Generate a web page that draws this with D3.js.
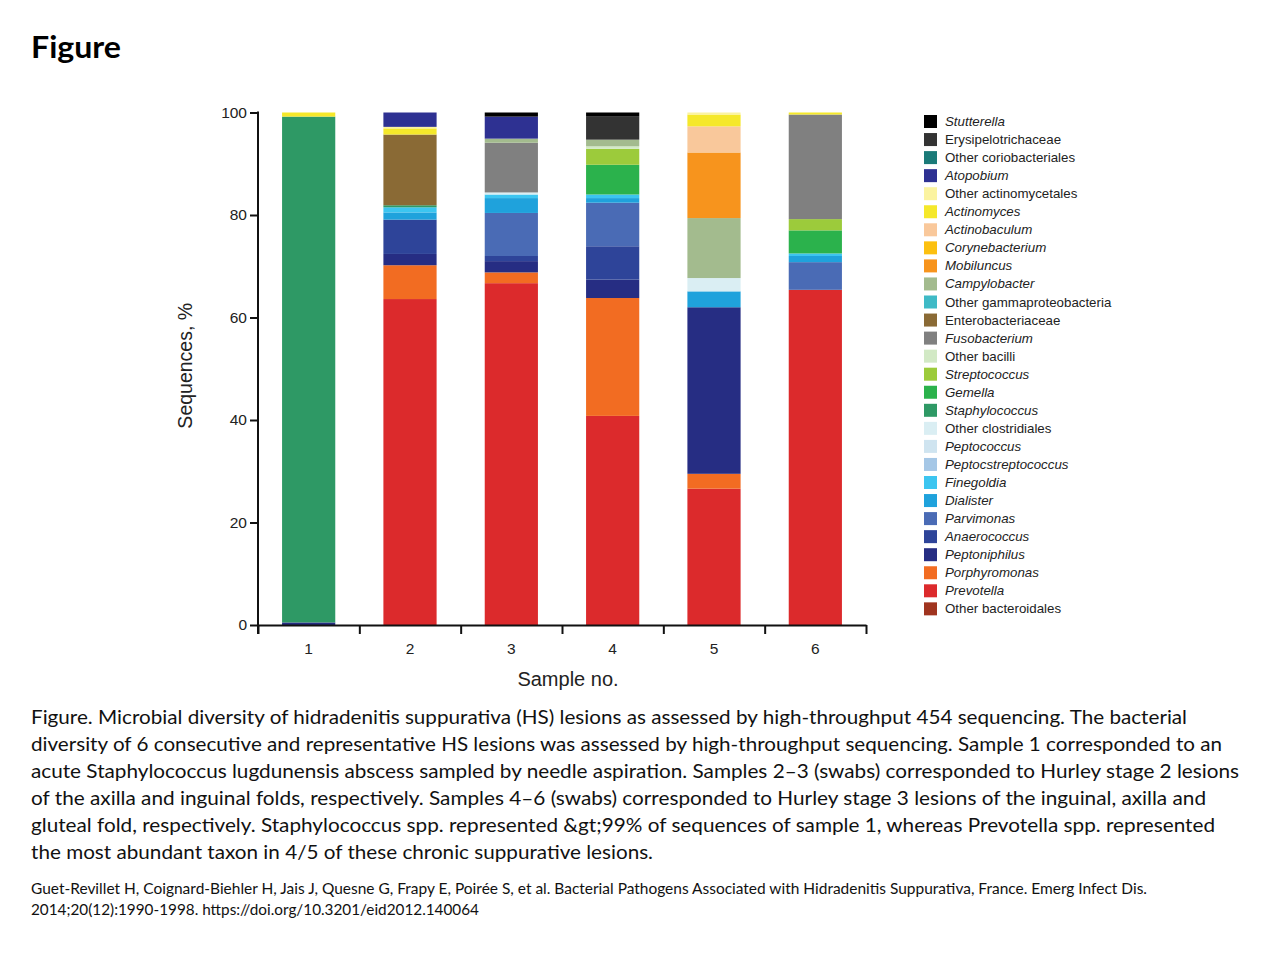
<!DOCTYPE html>
<html>
<head>
<meta charset="utf-8">
<script src="https://cdn.jsdelivr.net/npm/d3@7"></script>
<style>
  html, body { margin: 0; padding: 0; background: #fff; }
  svg { display: block; }
</style>
</head>
<body>
<svg id="chart" width="1280" height="960"></svg>
<script>
// ---------- data ----------
const samples = ["1", "2", "3", "4", "5", "6"];

// taxa in stacking order, bottom to top
const taxa = [
  "Other bacteroidales", "Prevotella", "Porphyromonas", "Peptoniphilus", "Anaerococcus",
  "Parvimonas", "Dialister", "Finegoldia", "Peptocstreptococcus", "Peptococcus",
  "Other clostridiales", "Staphylococcus", "Gemella", "Streptococcus", "Other bacilli",
  "Fusobacterium", "Enterobacteriaceae", "Other gammaproteobacteria", "Campylobacter", "Mobiluncus",
  "Corynebacterium", "Actinobaculum", "Actinomyces", "Other actinomycetales", "Atopobium",
  "Other coriobacteriales", "Erysipelotrichaceae", "Stutterella"
];

const taxaItalic = [
  false, true, true, true, true,
  true, true, true, true, true,
  false, true, true, true, false,
  true, false, false, true, true,
  true, true, true, false, true,
  false, false, true
];

const taxaColors = [
  "#a0341f", "#dc2a2c", "#f26c22", "#262d83", "#2e4499",
  "#4a6bb5", "#1fa2dc", "#3cc5f0", "#a5c7e6", "#cfe4f0",
  "#daeef3", "#2e9965", "#2bb24c", "#9ccb3b", "#d2e9c5",
  "#808080", "#8a6a35", "#3fbac6", "#a3bb8e", "#f7941d",
  "#fcc010", "#f9c89b", "#f5e82a", "#fbf3a0", "#2e3192",
  "#1a7a78", "#333333", "#000000"
];

// percentage of sequences per taxon (same order as taxa)
const sample1 = [0, 0, 0, 0.5, 0, 0, 0, 0, 0, 0, 0, 98.7, 0, 0, 0, 0, 0, 0, 0, 0, 0, 0, 0.8, 0, 0, 0, 0, 0];
const sample2 = [0, 63.6, 6.6, 2.2, 6.7, 0, 1.4, 1.0, 0, 0, 0, 0.4, 0, 0, 0, 0, 13.8, 0, 0, 0, 0, 0, 1.2, 0.3, 2.8, 0, 0, 0];
const sample3 = [0, 66.7, 2.1, 2.2, 1.0, 8.4, 2.9, 0.7, 0, 0, 0.4, 0, 0, 0, 0, 9.7, 0, 0, 0.8, 0, 0, 0, 0, 0, 4.3, 0, 0, 0.8];
const sample4 = [0, 40.8, 23.0, 3.6, 6.5, 8.5, 0.9, 0.7, 0, 0, 0, 0, 5.8, 3.1, 0.5, 0, 0, 0, 1.3, 0, 0, 0, 0, 0, 0, 0, 4.6, 0.7];
const sample5 = [0, 26.6, 2.9, 32.5, 0, 0, 3.1, 0, 0, 0, 2.6, 0, 0, 0, 0, 0, 0, 0, 11.7, 12.8, 0, 5.1, 2.3, 0.4, 0, 0, 0, 0];
const sample6 = [0, 65.4, 0, 0, 0, 5.4, 1.2, 0.5, 0, 0, 0, 0, 4.5, 2.2, 0, 20.4, 0, 0, 0, 0, 0, 0, 0.4, 0, 0, 0, 0, 0];
const sampleValues = [sample1, sample2, sample3, sample4, sample5, sample6];

const yTicks = [0, 20, 40, 60, 80, 100];

const titleText = "Figure";
const captionLines = [
  "Figure. Microbial diversity of hidradenitis suppurativa (HS) lesions as assessed by high-throughput 454 sequencing. The bacterial",
  "diversity of 6 consecutive and representative HS lesions was assessed by high-throughput sequencing. Sample 1 corresponded to an",
  "acute Staphylococcus lugdunensis abscess sampled by needle aspiration. Samples 2\u20133 (swabs) corresponded to Hurley stage 2 lesions",
  "of the axilla and inguinal folds, respectively. Samples 4\u20136 (swabs) corresponded to Hurley stage 3 lesions of the inguinal, axilla and",
  "gluteal fold, respectively. Staphylococcus spp. represented &gt;99% of sequences of sample 1, whereas Prevotella spp. represented",
  "the most abundant taxon in 4/5 of these chronic suppurative lesions."
];
const citationLines = [
  "Guet-Revillet H, Coignard-Biehler H, Jais J, Quesne G, Frapy E, Poir\u00e9e S, et al. Bacterial Pathogens Associated with Hidradenitis Suppurativa, France. Emerg Infect Dis.",
  "2014;20(12):1990-1998. https://doi.org/10.3201/eid2012.140064"
];

// ---------- layout ----------
const svg = d3.select("#chart");
const plot = { left: 258, right: 866, top: 112.5, bottom: 625 };
const sans = "Liberation Sans, Arial, sans-serif";

const table = samples.map((s, i) => {
  const row = { sample: s };
  taxa.forEach((t, j) => { row[t] = sampleValues[i][j]; });
  return row;
});

const x = d3.scaleBand().domain(samples).range([plot.left, plot.right]).padding(0);
const xEdge = d3.scaleLinear().domain([0, samples.length]).range([plot.left, plot.right]);
const y = d3.scaleLinear().domain([0, 100]).range([plot.bottom, plot.top]);
const color = d3.scaleOrdinal().domain(taxa).range(taxaColors);
const barWidth = x.bandwidth() * 0.525;

const stacked = d3.stack().keys(taxa)(table);

// bars
const g = svg.append("g");
g.selectAll("g.layer")
  .data(stacked)
  .join("g")
  .attr("class", "layer")
  .attr("fill", d => color(d.key))
  .selectAll("rect")
  .data(d => d.filter(p => p[1] - p[0] > 0))
  .join("rect")
  .attr("x", d => x(d.data.sample) + (x.bandwidth() - barWidth) / 2)
  .attr("width", barWidth)
  .attr("y", d => y(d[1]))
  .attr("height", d => y(d[0]) - y(d[1]));

// y axis
const yAxis = svg.append("g")
  .attr("transform", `translate(${plot.left},0)`)
  .call(d3.axisLeft(y).tickValues(yTicks).tickSize(8).tickSizeOuter(0).tickPadding(3));
yAxis.select(".domain").remove();
yAxis.selectAll(".tick line").attr("stroke", "#111").attr("stroke-width", 2);
yAxis.selectAll(".tick text")
  .attr("font-family", sans)
  .attr("font-size", 15.5).attr("fill", "#222");
svg.append("line")
  .attr("x1", plot.left).attr("x2", plot.left)
  .attr("y1", y(100) - 1).attr("y2", plot.bottom + 9)
  .attr("stroke", "#111").attr("stroke-width", 2);

// x axis ticks (between bars)
const xAxis = svg.append("g")
  .attr("transform", `translate(0,${plot.bottom})`)
  .call(d3.axisBottom(xEdge).tickValues(d3.range(samples.length + 1)).tickFormat("").tickSize(9).tickSizeOuter(0));
xAxis.select(".domain").attr("stroke", "#111").attr("stroke-width", 2);
xAxis.selectAll(".tick line").attr("stroke", "#111").attr("stroke-width", 2);

// x category labels
const xLab = svg.append("g")
  .attr("transform", `translate(0,${plot.bottom})`)
  .call(d3.axisBottom(x).tickSize(0).tickPadding(18));
xLab.select(".domain").remove();
xLab.selectAll(".tick text")
  .attr("font-family", sans)
  .attr("font-size", 15.5).attr("fill", "#222");

// axis titles
svg.append("text")
  .attr("x", (plot.left + plot.right) / 2 + 6).attr("y", 686)
  .attr("text-anchor", "middle")
  .attr("font-family", sans)
  .attr("font-size", 20).attr("fill", "#222")
  .text("Sample no.");
svg.append("text")
  .attr("transform", `translate(192,${(plot.top + plot.bottom) / 2 - 3}) rotate(-90)`)
  .attr("text-anchor", "middle")
  .attr("font-family", sans)
  .attr("font-size", 19.5).attr("fill", "#222")
  .text("Sequences, %");

// legend (top-to-bottom = reverse stacking order)
const legendItems = taxa.map((t, i) => ({ name: t, italic: taxaItalic[i] })).reverse();
const legend = svg.append("g").attr("transform", "translate(924,115)");
const leg = legend.selectAll("g")
  .data(legendItems)
  .join("g")
  .attr("transform", (d, i) => `translate(0,${i * 18.05})`);
leg.append("rect")
  .attr("width", 13).attr("height", 13)
  .attr("fill", d => color(d.name));
leg.append("text")
  .attr("x", 21).attr("y", 11)
  .attr("font-family", sans)
  .attr("font-size", 13.3)
  .attr("font-style", d => d.italic ? "italic" : "normal")
  .attr("fill", "#222")
  .text(d => d.name);

// title and caption
function fit(sel, w) {
  sel.attr("textLength", w).attr("lengthAdjust", "spacingAndGlyphs");
}
svg.append("text")
  .attr("x", 31).attr("y", 58)
  .attr("font-family", "Lato, 'Open Sans', sans-serif")
  .attr("font-weight", "bold").attr("font-size", 31).attr("fill", "#000")
  .text(titleText).call(fit, 90);

const captionEnds = [1187, 1222, 1239, 1206, 1215, 653];
svg.append("g").selectAll("text")
  .data(captionLines)
  .join("text")
  .attr("x", 31).attr("y", (d, i) => 724 + i * 27)
  .attr("font-family", "Lato, 'Open Sans', sans-serif")
  .attr("font-size", 20).attr("fill", "#111")
  .text(d => d)
  .each(function (d, i) { d3.select(this).call(fit, captionEnds[i] - 31); });

const citationEnds = [1147, 479];
svg.append("g").selectAll("text")
  .data(citationLines)
  .join("text")
  .attr("x", 31).attr("y", (d, i) => 894 + i * 21)
  .attr("font-family", "Lato, 'Open Sans', sans-serif")
  .attr("font-size", 15).attr("fill", "#111")
  .text(d => d)
  .each(function (d, i) { d3.select(this).call(fit, citationEnds[i] - 31); });
</script>
</body>
</html>
